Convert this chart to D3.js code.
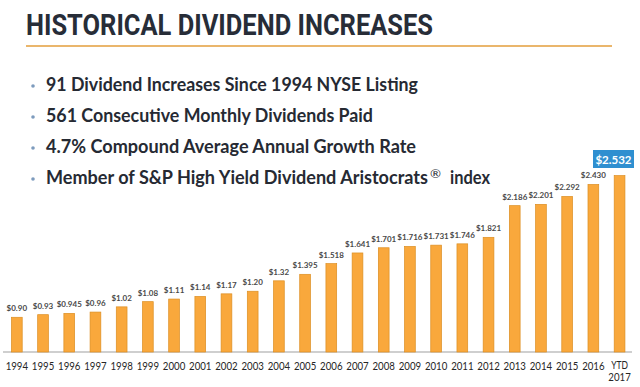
<!DOCTYPE html>
<html>
<head>
<meta charset="utf-8">
<script src="https://cdn.jsdelivr.net/npm/d3@7"></script>
<style>
  html, body { margin: 0; padding: 0; background: #fff; }
  svg { display: block; }
</style>
</head>
<body>
<div class="visualization"></div>
<script>
// chart data
var years = ["1994","1995","1996","1997","1998","1999","2000","2001","2002","2003","2004","2005",
             "2006","2007","2008","2009","2010","2011","2012","2013","2014","2015","2016","YTD 2017"];
var dividends = [0.90, 0.93, 0.945, 0.96, 1.02, 1.08, 1.11, 1.14, 1.17, 1.20, 1.32, 1.395,
                 1.518, 1.641, 1.701, 1.716, 1.731, 1.746, 1.821, 2.186, 2.201, 2.292, 2.430, 2.532];
var valueLabels = ["$0.90","$0.93","$0.945","$0.96","$1.02","$1.08","$1.11","$1.14","$1.17","$1.20","$1.32","$1.395",
                   "$1.518","$1.641","$1.701","$1.716","$1.731","$1.746","$1.821","$2.186","$2.201","$2.292","$2.430","$2.532"];
var title = "HISTORICAL DIVIDEND INCREASES";
// each bullet is a list of text runs: [text, x start, width, superscript?]
var bullets = [
    [["91 Dividend Increases Since 1994 NYSE Listing", 46, 372]],
    [["561 Consecutive Monthly Dividends Paid", 46, 327]],
    [["4.7% Compound Average Annual Growth Rate", 46, 370]],
    [["Member of S&P High Yield Dividend Aristocrats", 46, 382], ["®", 430, 11, true], ["index", 450, 40]]
];

var width = 640, height = 387;

var svg = d3.select('.visualization').append('svg')
    .attr('width', width)
    .attr('height', height);

// title + rule
svg.append('text')
    .attr('x', 26)
    .attr('y', 35)
    .attr('textLength', 407)
    .attr('lengthAdjust', 'spacingAndGlyphs')
    .style('font-family', 'Roboto, sans-serif')
    .style('font-weight', 700)
    .style('font-size', '29px')
    .style('fill', '#272d38')
    .text(title);

svg.append('line')
    .attr('x1', 26).attr('x2', 612)
    .attr('y1', 46).attr('y2', 46)
    .style('stroke', '#eab66c')
    .style('stroke-width', 2);

// bullet list
var bulletG = svg.append('g').attr('class', 'bullets');
bullets.forEach(function(runs, i) {
    var y = 91 + i * 31;
    bulletG.append('circle')
        .attr('cx', 33).attr('cy', y - 5).attr('r', 1.8)
        .style('fill', '#7d9bbd');
    runs.forEach(function(r) {
        bulletG.append('text')
            .attr('x', r[1]).attr('y', r[3] ? y - 6 : y)
            .attr('textLength', r[2])
            .attr('lengthAdjust', 'spacingAndGlyphs')
            .style('font-family', 'Lato, sans-serif')
            .style('font-weight', r[3] ? 400 : 700)
            .style('font-size', r[3] ? '12px' : '18.5px')
            .style('fill', '#262a33')
            .text(r[0]);
    });
});

// scales
var x = d3.scaleBand()
    .domain(years)
    .range([-4, 640.4])
    .padding(0.59);

var y = d3.scaleLinear()
    .domain([0.5, 3])
    .range([352, 135]);

// baseline
svg.append('line')
    .attr('x1', 3).attr('x2', 632)
    .attr('y1', y(0.5)).attr('y2', y(0.5))
    .style('stroke', '#cfcfcf')
    .style('stroke-width', 2);

var bars = svg.append('g').attr('class', 'bars');
bars.selectAll('rect')
    .data(dividends)
    .enter().append('rect')
    .attr('x', (d, i) => x(years[i]))
    .attr('y', d => y(d))
    .attr('width', x.bandwidth())
    .attr('height', d => y(0.5) - y(d))
    .style('fill', '#f9a83c')
    .style('stroke', '#dc8e22')
    .style('stroke-width', 0.7);

// value labels (last one sits in the blue callout)
var n = dividends.length;
bars.selectAll('text.value')
    .data(dividends.slice(0, n - 1))
    .enter().append('text')
    .attr('class', 'value')
    .attr('x', (d, i) => x(years[i]) + x.bandwidth() / 2)
    .attr('y', d => y(d) - 6)
    .style('text-anchor', 'middle')
    .style('font-family', 'Lato, sans-serif')
    .style('font-weight', 700)
    .style('font-size', '8px')
    .style('fill', '#4a4a4a')
    .text((d, i) => valueLabels[i]);

var callout = svg.append('g').attr('class', 'callout');
callout.append('rect')
    .attr('x', 593).attr('y', 150)
    .attr('width', 41).attr('height', 18)
    .style('fill', '#2f8fd0');
callout.append('text')
    .attr('x', 613.5).attr('y', 163.5)
    .style('text-anchor', 'middle')
    .style('font-family', 'Lato, sans-serif')
    .style('font-weight', 700)
    .style('font-size', '11.5px')
    .style('fill', '#fff')
    .text(valueLabels[n - 1]);

// year labels (narrowed to fit like the original's Calibri)
var xLabels = svg.append('g').attr('class', 'x-labels');
years.forEach(function(yr) {
    var parts = yr.split(' ');
    parts.forEach(function(p, j) {
        xLabels.append('text')
            .attr('x', x(yr) + x.bandwidth() / 2)
            .attr('y', (parts.length > 1 ? 368.5 : 369.5) + j * 12)
            .attr('textLength', p.length * 5.6)
            .attr('lengthAdjust', 'spacingAndGlyphs')
            .style('text-anchor', 'middle')
            .style('font-family', 'Lato, sans-serif')
            .style('font-size', parts.length > 1 ? '11px' : '12px')
            .style('fill', '#262626')
            .text(p);
    });
});
</script>
</body>
</html>
